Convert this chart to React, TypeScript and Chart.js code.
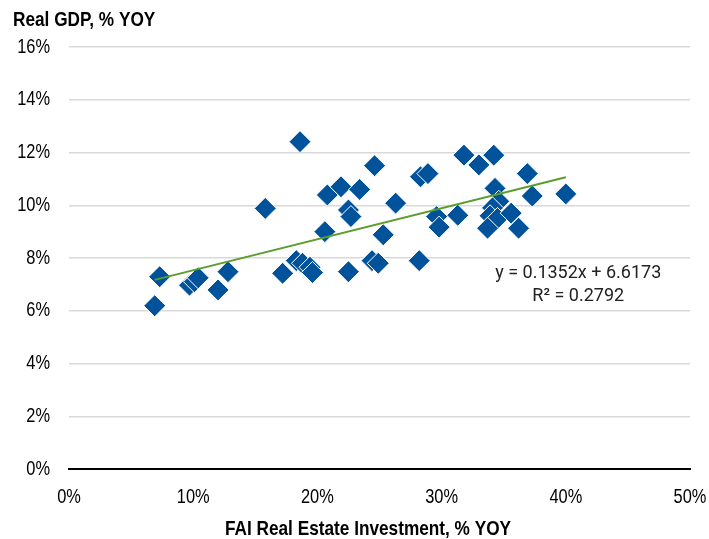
import React, { useEffect, useRef } from "react";
import { Chart, registerables } from "chart.js";

Chart.register(...registerables);

const faiX = [
  6.9, 7.3, 9.7, 10.1, 10.4, 12.0, 12.8, 15.8, 17.2, 18.3, 18.8, 19.4, 19.6, 18.6,
  20.6, 20.8, 21.9, 23.4, 22.5, 22.7, 22.5, 24.6, 24.4, 24.9, 25.3, 26.3, 28.2, 28.3,
  28.9, 29.6, 29.8, 31.3, 31.8, 33.0, 34.2, 34.3, 34.6, 34.1, 33.9, 34.5, 33.7, 35.6,
  36.2, 36.9, 37.3, 40.0,
];
const gdpY = [
  6.19, 7.29, 6.97, 7.1, 7.25, 6.79, 7.48, 9.88, 7.42, 7.9, 7.8, 7.65, 7.45, 12.41,
  9.0, 10.39, 10.7, 10.6, 9.82, 9.57, 7.48, 11.5, 7.9, 7.8, 8.88, 10.08, 7.9, 11.08,
  11.2, 9.57, 9.17, 9.62, 11.9, 11.53, 11.9, 10.64, 10.15, 9.9, 9.6, 9.5, 9.13, 9.7,
  9.13, 11.2, 10.35, 10.43,
];
const trendX = [6.9, 40.0];
const trendY = [7.17, 11.06];
const xTicks = [0, 10, 20, 30, 40, 50];
const yTicks = [0, 2, 4, 6, 8, 10, 12, 14, 16];
const yTitle = "Real GDP, % YOY";
const xTitle = "FAI Real Estate Investment, % YOY";
const eqLine1 = "y = 0.1352x + 6.6173";
const eqLine2 = "R² = 0.2792";

const FONT = "'Liberation Sans', Arial, sans-serif";
const SQUEEZE = 0.82;

function narrowText(ctx: CanvasRenderingContext2D, text: string, x: number, y: number) {
  ctx.save();
  ctx.scale(SQUEEZE, 1);
  ctx.fillText(text, x / SQUEEZE, y);
  ctx.restore();
}

export default function App() {
  const ref = useRef<HTMLCanvasElement | null>(null);

  useEffect(() => {
    if (!ref.current) return;
    const textPlugin = {
      id: "texts",
      afterDraw(chart: any) {
        const ctx = chart.ctx as CanvasRenderingContext2D;
        const xs = chart.scales.x;
        const ys = chart.scales.y;
        ctx.save();
        ctx.fillStyle = "#000";
        ctx.textBaseline = "middle";
        // tick labels
        ctx.font = `20px ${FONT}`;
        ctx.textAlign = "right";
        ys.ticks.forEach((t: any) => {
          narrowText(ctx, `${t.value}%`, 50, ys.getPixelForValue(t.value));
        });
        ctx.textAlign = "center";
        xs.ticks.forEach((t: any) => {
          narrowText(ctx, `${t.value}%`, xs.getPixelForValue(t.value), 497);
        });
        // axis titles
        ctx.font = `bold 21px ${FONT}`;
        ctx.textAlign = "left";
        narrowText(ctx, yTitle, 13, 20);
        ctx.textAlign = "center";
        narrowText(ctx, xTitle, 368, 529);
        // trend equation
        ctx.font = "18px Roboto";
        ctx.fillStyle = "#222";
        const cx = xs.getPixelForValue(41.0);
        ctx.fillText(eqLine1, cx, ys.getPixelForValue(7.43));
        ctx.fillText(eqLine2, cx, ys.getPixelForValue(6.53));
        ctx.restore();
      },
    };

    const chart = new Chart(ref.current, {
      type: "scatter",
      data: {
        datasets: [
          {
            type: "line",
            label: "Trend",
            data: trendX.map((x, i) => ({ x, y: trendY[i] })),
            borderColor: "#5B9E2E",
            borderWidth: 2,
            pointRadius: 0,
            fill: false,
            order: 0,
          },
          {
            label: "GDP vs FAI",
            data: faiX.map((x, i) => ({ x, y: gdpY[i] })),
            pointStyle: "rectRot",
            pointRadius: 11,
            pointBackgroundColor: "#00529B",
            pointBorderColor: "#ffffff",
            pointBorderWidth: 1,
            order: 1,
          },
        ],
      },
      options: {
        responsive: false,
        animation: false,
        layout: { padding: { left: 0, right: 19, top: 47, bottom: 0 } },
        plugins: {
          legend: { display: false },
          tooltip: { enabled: false },
          title: { display: false },
        },
        scales: {
          x: {
            type: "linear",
            min: 0,
            max: 50,
            afterFit: (s: any) => {
              s.height = 70;
            },
            afterBuildTicks: (s: any) => {
              s.ticks = xTicks.map((v) => ({ value: v }));
            },
            ticks: { display: false },
            grid: { display: false, drawTicks: false },
            border: { display: true, color: "#000", width: 2 },
          },
          y: {
            type: "linear",
            min: 0,
            max: 16,
            afterFit: (s: any) => {
              s.width = 69;
            },
            afterBuildTicks: (s: any) => {
              s.ticks = yTicks.map((v) => ({ value: v }));
            },
            ticks: { display: false },
            grid: {
              drawTicks: false,
              color: (c: any) => (c.tick && c.tick.value === 0 ? "#000" : "#D9D9D9"),
              lineWidth: (c: any) => (c.tick && c.tick.value === 0 ? 2 : 1.5),
            },
            border: { display: false },
          },
        },
      },
      plugins: [textPlugin],
    });
    return () => chart.destroy();
  }, []);

  return (
    <div style={{ position: "absolute", left: 0, top: 0, width: 709, height: 539, background: "#fff" }}>
      <canvas ref={ref} width={709} height={539} style={{ width: 709, height: 539 }} />
    </div>
  );
}
